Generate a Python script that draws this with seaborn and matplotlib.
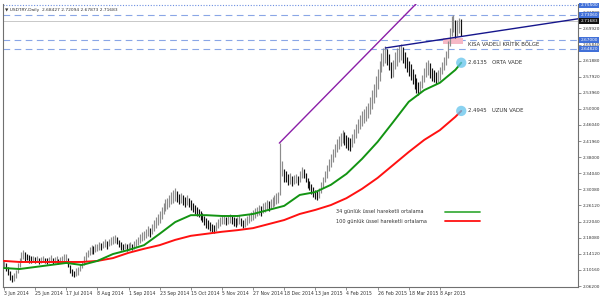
import numpy as np
import pandas as pd
import matplotlib
matplotlib.use("Agg")
import matplotlib.pyplot as plt
import matplotlib.transforms as mtransforms
from matplotlib.patches import Rectangle
import seaborn as sns

# ---------------- data ----------------
title = "\u25BC USDTRY,Daily  2.68427 2.72094 2.67873 2.71683"

low = [
    2.108, 2.100, 2.090, 2.078, 2.072, 2.075, 2.082, 2.095, 2.110, 2.122, 2.128, 2.124, 2.126, 2.120, 2.118, 2.121,
    2.119, 2.121, 2.117, 2.120, 2.122, 2.118, 2.116, 2.119, 2.121, 2.117, 2.118, 2.120, 2.116, 2.119, 2.121, 2.124,
    2.125, 2.110, 2.095, 2.086, 2.084, 2.088, 2.090, 2.098, 2.106, 2.115, 2.125, 2.133, 2.138, 2.142, 2.140, 2.145,
    2.148, 2.152, 2.150, 2.155, 2.158, 2.154, 2.160, 2.163, 2.166, 2.168, 2.165, 2.158, 2.152, 2.150, 2.153, 2.149, 2.151, 2.154, 2.150, 2.153,
    2.158, 2.163, 2.168, 2.172, 2.176, 2.180, 2.185, 2.182, 2.190, 2.198, 2.205, 2.212, 2.218, 2.228, 2.240, 2.248, 2.252, 2.258, 2.265, 2.268, 2.272,
    2.270, 2.265, 2.268, 2.262, 2.258, 2.262, 2.256, 2.250, 2.246, 2.240, 2.236, 2.232,
    2.226, 2.220, 2.212, 2.206, 2.203, 2.198, 2.196, 2.193, 2.198, 2.205, 2.210, 2.214, 2.216, 2.212, 2.215, 2.218, 2.214, 2.211, 2.208, 2.212, 2.216, 2.210, 2.205, 2.208, 2.213,
    2.218, 2.222, 2.226, 2.230, 2.234, 2.238, 2.236, 2.242, 2.246, 2.250, 2.248, 2.252, 2.256, 2.260, 2.264, 2.268,
    2.288, 2.335, 2.320, 2.318, 2.312, 2.315, 2.310, 2.313, 2.316, 2.312, 2.320, 2.330, 2.328, 2.318, 2.305, 2.298, 2.290, 2.283, 2.278, 2.274, 2.280, 2.292,
    2.305, 2.318, 2.330, 2.345, 2.356, 2.368, 2.380, 2.392, 2.400, 2.408, 2.415, 2.410, 2.404, 2.398, 2.395, 2.405, 2.415,
    2.428, 2.440, 2.450, 2.458, 2.465, 2.470, 2.478, 2.488, 2.500, 2.515, 2.530, 2.548, 2.568, 2.590, 2.605, 2.612,
    2.608, 2.595, 2.575, 2.578, 2.598, 2.605, 2.615, 2.620, 2.612, 2.600, 2.590, 2.580,
    2.570, 2.560, 2.548, 2.540, 2.535, 2.538,
    2.550, 2.565, 2.578, 2.582, 2.575, 2.568,
    2.565, 2.562, 2.566, 2.572,
    2.585, 2.595, 2.608, 2.625,
    2.655, 2.680, 2.690, 2.675, 2.680, 2.688, 2.6787,
]
high = [
    2.124, 2.118, 2.110, 2.098, 2.090, 2.094, 2.101, 2.118, 2.132, 2.146, 2.151, 2.145, 2.142, 2.138, 2.135, 2.137,
    2.133, 2.136, 2.131, 2.134, 2.137, 2.132, 2.130, 2.134, 2.138, 2.131, 2.133, 2.135, 2.129, 2.133, 2.136, 2.140,
    2.142, 2.130, 2.115, 2.104, 2.100, 2.106, 2.110, 2.117, 2.125, 2.136, 2.146, 2.152, 2.158, 2.163, 2.160, 2.166,
    2.167, 2.170, 2.168, 2.174, 2.177, 2.172, 2.179, 2.183, 2.186, 2.189, 2.184, 2.176, 2.170, 2.167, 2.169, 2.165, 2.168, 2.171, 2.166, 2.172,
    2.178, 2.184, 2.190, 2.195, 2.199, 2.204, 2.210, 2.205, 2.216, 2.224, 2.232, 2.240, 2.247, 2.258, 2.268, 2.276, 2.280, 2.287, 2.294, 2.299, 2.304,
    2.296, 2.290, 2.293, 2.288, 2.283, 2.286, 2.280, 2.274, 2.268, 2.262, 2.257, 2.252,
    2.248, 2.242, 2.236, 2.230, 2.226, 2.220, 2.216, 2.213, 2.220, 2.227, 2.232, 2.236, 2.238, 2.233, 2.236, 2.240, 2.235, 2.232, 2.229, 2.233, 2.237, 2.231, 2.226, 2.229, 2.234,
    2.240, 2.245, 2.250, 2.254, 2.258, 2.262, 2.260, 2.266, 2.270, 2.275, 2.272, 2.277, 2.282, 2.286, 2.291, 2.294,
    2.415, 2.370, 2.352, 2.345, 2.338, 2.340, 2.333, 2.336, 2.338, 2.335, 2.345, 2.356, 2.352, 2.342, 2.330, 2.322, 2.314, 2.306, 2.300, 2.296, 2.304, 2.318,
    2.332, 2.346, 2.360, 2.375, 2.388, 2.400, 2.412, 2.425, 2.432, 2.440, 2.447, 2.442, 2.436, 2.430, 2.428, 2.438, 2.450,
    2.462, 2.474, 2.485, 2.494, 2.500, 2.507, 2.515, 2.528, 2.545, 2.562, 2.580, 2.598, 2.618, 2.637, 2.650, 2.655,
    2.648, 2.635, 2.615, 2.620, 2.640, 2.650, 2.658, 2.660, 2.652, 2.640, 2.628, 2.618,
    2.610, 2.598, 2.585, 2.575, 2.565, 2.568,
    2.584, 2.600, 2.615, 2.620, 2.612, 2.600,
    2.595, 2.590, 2.595, 2.602,
    2.615, 2.628, 2.642, 2.668,
    2.700, 2.728, 2.732, 2.718, 2.720, 2.725, 2.7209,
]

ema_bars = [0, 8, 16, 24, 32, 40, 48, 56, 64, 72, 80, 88, 96, 104, 112, 120, 128, 136,
            144, 152, 160, 168, 176, 184, 192, 200, 208, 216, 224, 232, 235]
ema34 = [2.1065, 2.104, 2.109, 2.114, 2.119, 2.114, 2.124, 2.141, 2.151, 2.163, 2.191, 2.220,
         2.237, 2.237, 2.235, 2.235, 2.240, 2.250, 2.260, 2.287, 2.294, 2.312, 2.339, 2.376,
         2.418, 2.467, 2.517, 2.546, 2.564, 2.596, 2.6135]
ema100 = [2.124, 2.1214, 2.1214, 2.1214, 2.1214, 2.1214, 2.124, 2.131, 2.144, 2.154, 2.163,
          2.176, 2.186, 2.191, 2.196, 2.200, 2.205, 2.215, 2.225, 2.240, 2.250, 2.262, 2.279,
          2.302, 2.329, 2.361, 2.393, 2.423, 2.447, 2.480, 2.4945]

date_bars = [0, 16, 32, 48, 64, 80, 96, 112, 128, 144, 160, 176, 192, 208, 224]
date_labels = ["3 Jun 2014", "25 Jun 2014", "17 Jul 2014", "8 Aug 2014", "1 Sep 2014",
               "23 Sep 2014", "15 Oct 2014", "5 Nov 2014", "27 Nov 2014", "18 Dec 2014",
               "13 Jan 2015", "4 Feb 2015", "26 Feb 2015", "18 Mar 2015", "8 Apr 2015"]

price_ticks = [2.06200, 2.10160, 2.14120, 2.18080, 2.22040, 2.26120, 2.30080, 2.34040,
               2.38000, 2.41960, 2.46040, 2.50000, 2.53960, 2.57920, 2.61880, 2.65840,
               2.69920, 2.73880]

level_dotted = [2.75500]
levels_dashed = [2.73060, 2.67000, 2.64820]
bid_price = 2.71683

purple_x = [141.5, 212.0]
purple_y = [2.415, 2.760]
navy_x = [196.0, 295.0]
navy_y = [2.650, 2.722]

zone_bars = [225.5, 236.0]
zone_prices = [2.660, 2.674]
zone_label = "KISA VADEL\u0130 KR\u0130T\u0130K B\u00d6LGE"

target_bar = 235
targets = [2.6135, 2.4945]
target_labels = ["2.6135   ORTA VADE", "2.4945   UZUN VADE"]

legend_labels = ["34 g\u00fcnl\u00fck \u00fcssel hareketli ortalama",
                 "100 g\u00fcnl\u00fck \u00fcssel hareketli ortalama"]

# ---------------- plot ----------------
sns.set_theme(style="white")
plt.rcParams["font.family"] = ["DejaVu Sans"]

W, H = 600, 298
fig = plt.figure(figsize=(W / 100, H / 100), dpi=100)
ax = fig.add_axes([3 / W, 11 / H, 575 / W, 283 / H])
ax.set_facecolor("white")

low_a = np.array(low)
high_a = np.array(high)
bars = np.arange(len(low_a))
mid = (low_a + high_a) / 2
rising = np.r_[True, mid[1:] >= mid[:-1]]
ax.vlines(bars[rising], low_a[rising], high_a[rising], color="#8c8c8c", lw=0.85, zorder=2)
ax.vlines(bars[~rising], low_a[~rising], high_a[~rising], color="#111111", lw=0.85, zorder=2)

ema_df = pd.DataFrame({"bar": ema_bars, "ema34": ema34, "ema100": ema100})
sns.lineplot(data=ema_df, x="bar", y="ema100", color="#ff1111", lw=1.4, ax=ax, zorder=3)
sns.lineplot(data=ema_df, x="bar", y="ema34", color="#139413", lw=1.4, ax=ax, zorder=3)

# horizontal levels
for v in level_dotted:
    ax.axhline(v, color="#6d8fe0", lw=0.8, ls=(0, (1, 1.5)), zorder=1)
for v in levels_dashed:
    ax.axhline(v, color="#8aa6e6", lw=0.8, ls=(0, (6, 4)), zorder=1)
ax.axhline(bid_price, color="#c8c8c8", lw=0.7, zorder=1)

# trend lines
sns.lineplot(x=purple_x, y=purple_y, color="#8b1fa8", lw=1.0, ax=ax, zorder=4)
sns.lineplot(x=navy_x, y=navy_y, color="#16168c", lw=1.0, ax=ax, zorder=4)

# critical zone
ax.add_patch(Rectangle((zone_bars[0], zone_prices[0]), zone_bars[1] - zone_bars[0],
                       zone_prices[1] - zone_prices[0], facecolor="#f6b8c6",
                       edgecolor="none", zorder=1.5))
ax.text(238.5, 2.659, zone_label, fontsize=3.9, color="#333333", va="center", ha="left")

# targets
ax.scatter([target_bar] * len(targets), targets, s=55, color="#63c3ec", alpha=0.75,
           edgecolors="none", zorder=5)
for v, lab in zip(targets, target_labels):
    ax.text(238.5, v, lab, fontsize=3.9, color="#333333", va="center", ha="left")

# legend
leg_y = [2.2456, 2.2226]
leg_colors = ["#3fae3f", "#ff1111"]
for yv, lab, c in zip(leg_y, legend_labels, leg_colors):
    ax.text(170.5, yv, lab, fontsize=3.6, color="#333333", va="center", ha="left")
    ax.plot([226.5, 244.5], [yv, yv], color=c, lw=1.3)

# title
ax.text(0.004, 0.985, title, transform=ax.transAxes, fontsize=3.2, color="#333333",
        va="top", ha="left")

# axes
ax.set_xlim(-0.5, 295.0)
ax.set_ylim(2.0596, 2.7586)
ax.set_xlabel("")
ax.set_ylabel("")
ax.set_xticks(date_bars)
ax.set_xticklabels(date_labels, fontsize=3.3, color="#333333", ha="left")
ax.yaxis.tick_right()
ax.set_yticks(price_ticks)
ax.set_yticklabels([f"{v:.5f}" for v in price_ticks], fontsize=3.1, color="#333333")
ax.tick_params(axis="both", length=2, width=0.5, color="#666666", pad=1.5)
ax.tick_params(axis="x", bottom=True, pad=1.2)
ax.tick_params(axis="y", right=True, left=False)

for side in ["left", "bottom", "right"]:
    ax.spines[side].set_color("#707070")
    ax.spines[side].set_linewidth(0.8)
ax.spines["top"].set_visible(False)

# highlighted price labels
trans = mtransforms.blended_transform_factory(ax.transAxes, ax.transData)
for v in level_dotted + levels_dashed:
    ax.text(1.004, v, f"{v:.5f}", transform=trans, fontsize=3.1, color="white",
            va="center", ha="left", zorder=10,
            bbox=dict(boxstyle="square,pad=0.2", fc="#4170d8", ec="none"))
ax.text(1.004, bid_price, f"{bid_price:.5f}", transform=trans, fontsize=3.1, color="white",
        va="center", ha="left", zorder=10,
        bbox=dict(boxstyle="square,pad=0.2", fc="#111111", ec="none"))

fig.savefig("out.png", dpi=100, facecolor="white")
